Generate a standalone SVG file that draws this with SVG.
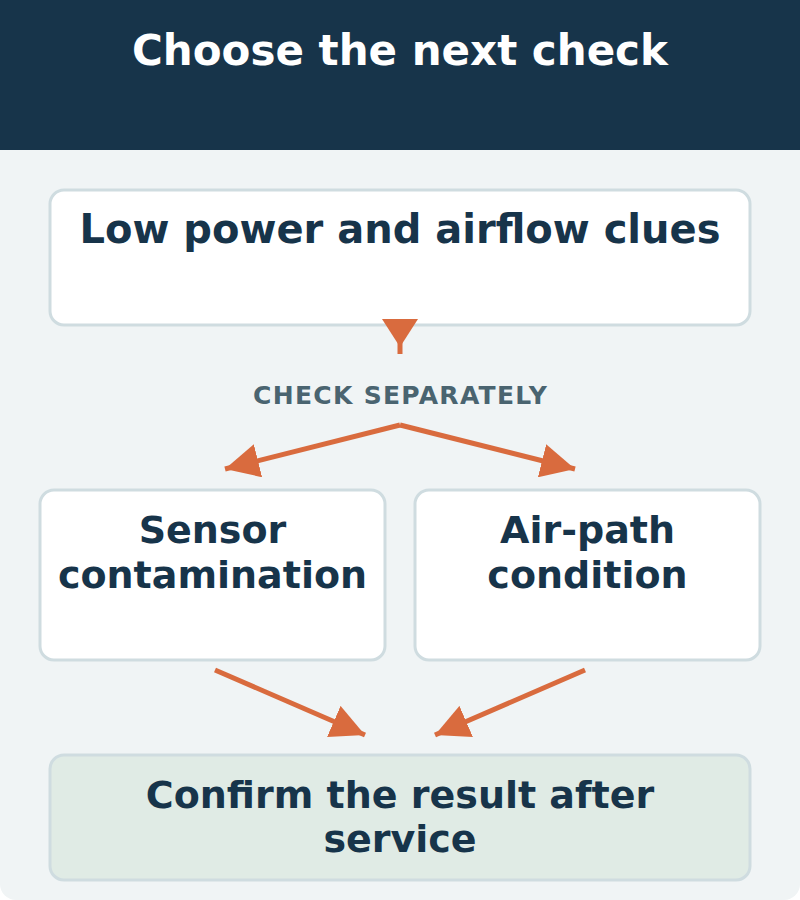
<svg xmlns="http://www.w3.org/2000/svg" width="800" height="900" viewBox="0 0 800 900">
  <style>
    .node { fill: #ffffff; stroke: #cfdce0; stroke-width: 3; }
    .final { fill: #e0ebe5; stroke: #cfdce0; stroke-width: 3; }
    .label { font-family: "DejaVu Sans", "Liberation Sans", sans-serif; font-weight: bold; font-size: 38px; fill: #17344a; text-anchor: middle; }
    .big { font-size: 40px; }
    .title { font-family: "DejaVu Sans", "Liberation Sans", sans-serif; font-weight: bold; font-size: 42px; fill: #ffffff; text-anchor: middle; }
    .edge-label { font-family: "DejaVu Sans", "Liberation Sans", sans-serif; font-weight: bold; font-size: 25px; letter-spacing: 1.3px; fill: #4a6470; text-anchor: middle; }
    .edge { stroke: #d96b3e; stroke-width: 5; fill: none; }
  </style>
  <defs>
    <marker id="arrow" markerUnits="userSpaceOnUse" viewBox="0 0 34 34" markerWidth="34" markerHeight="34" refX="34" refY="17" orient="auto">
      <path d="M0,0 L34,17 L0,34 z" fill="#d96b3e"/>
    </marker>
    <marker id="arrowV" markerUnits="userSpaceOnUse" viewBox="0 0 28 36" markerWidth="28" markerHeight="36" refX="35" refY="18" orient="auto">
      <path d="M0,0 L28,18 L0,36 z" fill="#d96b3e"/>
    </marker>
  </defs>

  <rect x="0" y="0" width="800" height="900" rx="16" fill="#f0f4f5"/>
  <rect x="0" y="0" width="800" height="150" fill="#17344a"/>
  <text class="title" x="400" y="65">Choose the next check</text>

  <g id="node-clues">
    <rect class="node" x="50" y="190" width="700" height="135" rx="14"/>
    <text class="label big" x="400" y="243">Low power and airflow clues</text>
  </g>

  <g id="node-sensor">
    <rect class="node" x="40" y="490" width="345" height="170" rx="14"/>
    <text class="label" x="212.5" y="543">Sensor</text>
    <text class="label" x="212.5" y="588">contamination</text>
  </g>

  <g id="node-airpath">
    <rect class="node" x="415" y="490" width="345" height="170" rx="14"/>
    <text class="label" x="587.5" y="543">Air-path</text>
    <text class="label" x="587.5" y="588">condition</text>
  </g>

  <g id="node-confirm">
    <rect class="final" x="50" y="755" width="700" height="125" rx="14"/>
    <text class="label" x="400" y="808">Confirm the result after</text>
    <text class="label" x="400" y="852">service</text>
  </g>

  <g id="connectors">
    <line class="edge" x1="400" y1="322" x2="400" y2="354" marker-end="url(#arrowV)"/>
    <text class="edge-label" x="400.6" y="404">CHECK SEPARATELY</text>
    <line class="edge" x1="400" y1="425" x2="225" y2="469" marker-end="url(#arrow)"/>
    <line class="edge" x1="400" y1="425" x2="575" y2="469" marker-end="url(#arrow)"/>
    <line class="edge" x1="215" y1="670" x2="365" y2="735" marker-end="url(#arrow)"/>
    <line class="edge" x1="585" y1="670" x2="435" y2="735" marker-end="url(#arrow)"/>
  </g>
</svg>
